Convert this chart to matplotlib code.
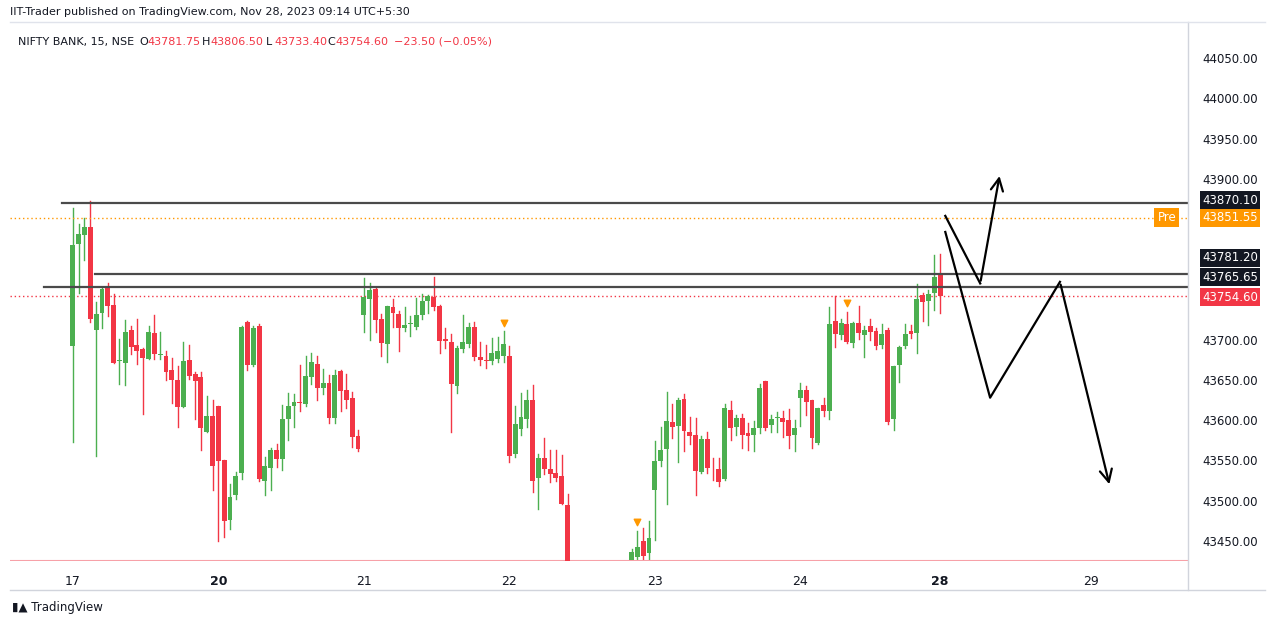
import numpy as np
import matplotlib.pyplot as plt
from matplotlib.patches import Rectangle

nan = np.nan
# 15-min candles, NIFTY BANK, 17 Nov .. 28 Nov 2023 (10 candles on 22 Nov are below the visible range)
opens = [43692,43819,43830,43840,43712,43733,43764,43743,43673,43671,43712,43694,43689,43676,43708,43681,43680,43662,43650,43617,43675,43657,43654,43585,43605,
         43618,43551,43476,43507,43534,43722,43669,43717,43524,43541,43563,43552,43601,43618,43623,43620,43654,43670,43640,43646,43603,43661,43637,43628,43580,
         43731,43751,43763,43726,43695,43741,43732,43715,43719,43716,43731,43748,43753,43742,43701,43697,43643,43689,43695,43716,43679,43675,43674,43676,43680,
         43680,43558,43589,43602,43625,43528,43553,43539,43534,43531,43495,nan,nan,nan,nan,nan,nan,nan,nan,nan,nan,43426,43430,43450,43435,
         43513,43549,43564,43598,43593,43626,43585,43582,43536,43577,43541,43539,43527,43613,43592,43603,43584,43582,43590,43649,43594,43603,43603,43600,43582,
         43628,43638,43625,43572,43619,43611,43723,43706,43720,43696,43721,43706,43717,43711,43693,43712,43601,43669,43692,43711,43708,43756,43748,43758,43781.75]
highs = [43864,43844,43851,43872,43747,43766,43770,43757,43701,43725,43717,43726,43690,43717,43731,43710,43686,43677,43668,43697,43694,43660,43660,43630,43625,
         43618,43551,43521,43536,43717,43723,43717,43719,43554,43565,43571,43619,43634,43632,43669,43680,43683,43680,43664,43656,43662,43662,43657,43635,43588,
         43777,43770,43765,43732,43742,43751,43736,43741,43729,43752,43757,43756,43778,43743,43715,43707,43692,43731,43721,43722,43697,43694,43702,43704,43711,
         43692,43618,43634,43638,43644,43558,43578,43563,43563,43557,43508,nan,nan,nan,nan,nan,nan,nan,nan,nan,nan,43440,43462,43466,43475,
         43574,43592,43635,43620,43628,43632,43604,43603,43581,43585,43553,43553,43620,43624,43607,43608,43596,43599,43645,43649,43607,43610,43611,43614,43600,
         43646,43643,43625,43615,43627,43741,43754,43726,43735,43722,43742,43717,43726,43715,43720,43715,43667,43692,43720,43718,43769,43758,43762,43805,43806.5]
lows = [43573,43758,43799,43722,43556,43715,43730,43671,43645,43644,43682,43670,43608,43676,43676,43676,43650,43621,43592,43617,43651,43602,43563,43585,43513,
        43450,43455,43465,43502,43527,43663,43668,43525,43507,43513,43542,43538,43576,43592,43611,43618,43645,43625,43632,43597,43597,43612,43615,43567,43562,
        43710,43700,43710,43680,43672,43716,43686,43711,43705,43714,43726,43733,43737,43684,43690,43585,43634,43685,43691,43675,43669,43665,43670,43672,43672,
        43548,43554,43582,43592,43511,43490,43533,43523,43525,43496,43380,nan,nan,nan,nan,nan,nan,nan,nan,nan,nan,43420,43420,43420,43420,
        43451,43543,43496,43578,43548,43562,43570,43507,43535,43535,43526,43518,43526,43576,43582,43565,43563,43562,43584,43588,43585,43585,43579,43565,43562,
        43593,43607,43566,43570,43605,43601,43691,43701,43696,43691,43701,43679,43700,43688,43690,43595,43588,43647,43690,43702,43684,43723,43718,43737,43733.4]
closes = [43818,43831,43840,43726,43732,43763,43742,43671,43675,43710,43691,43686,43677,43710,43682,43681,43660,43650,43617,43674,43655,43649,43590,43605,43543,
          43549,43475,43505,43531,43716,43669,43715,43527,43543,43563,43552,43602,43618,43623,43621,43655,43672,43640,43646,43603,43656,43636,43625,43579,43564,
          43753,43762,43725,43696,43742,43733,43715,43718,43721,43731,43748,43754,43741,43698,43699,43645,43690,43697,43716,43679,43675,43674,43684,43686,43695,
          43556,43595,43604,43625,43525,43553,43539,43533,43528,43496,43410,nan,nan,nan,nan,nan,nan,nan,nan,nan,nan,43436,43443,43431,43454,
          43549,43563,43599,43592,43625,43587,43580,43537,43577,43540,43540,43523,43615,43590,43603,43582,43580,43590,43640,43590,43602,43604,43598,43581,43590,
          43638,43623,43578,43615,43611,43720,43707,43721,43697,43721,43708,43712,43710,43692,43707,43598,43667,43691,43707,43707,43751,43747,43757,43778,43754.6]

day_labels = ["17", "20", "21", "22", "23", "24", "28", "29"]
day_index = [0, 25, 50, 75, 100, 125, 149, 175]
bold_days = ["20", "28"]

marker_idx = [74, 97, 133]
marker_price = [43721, 43474, 43746]

level_lines = [(43870.10, -1.9), (43781.20, 3.8), (43765.65, -5.0)]
pre_price = 43851.55
last_price = 43754.60
ytick_values = [43450, 43500, 43550, 43600, 43650, 43700, 43900, 43950, 44000, 44050]

# hand drawn scenario paths (candle index, price)
path_up = [(149.9, 43854), (155.9, 43770), (159.3, 43907)]
path_down = [(149.9, 43834), (157.6, 43628), (169.6, 43772), (178.2, 43517)]

GREEN = "#4caf50"
RED = "#f23645"
TXT = "#131722"

fig = plt.figure(figsize=(12.75, 6.27), dpi=100)
W, H = 1275, 627
ax = fig.add_axes([10 / W, (H - 561) / H, (1188 - 10) / W, (561 - 22) / H])

for i in range(len(opens)):
    o, h, l, c = opens[i], highs[i], lows[i], closes[i]
    if np.isnan(o):
        continue
    col = GREEN if c >= o else RED
    ax.plot([i, i], [l, h], color=col, lw=1, zorder=2)
    bh = max(abs(c - o), 0.9)
    ax.add_patch(Rectangle((i - 0.42, min(o, c)), 0.84, bh, color=col, lw=0, zorder=3))

ax.scatter(marker_idx, marker_price, marker="v", s=22, color="#ff9800", zorder=4)

for p, x0 in level_lines:
    ax.plot([x0, 200], [p, p], color="#4a4a4a", lw=1.6, zorder=5)
ax.axhline(pre_price, color="#ff9800", lw=1, ls=(0, (1, 2)))
ax.axhline(last_price, color=RED, lw=1, ls=(0, (1, 2)))

for path in (path_up, path_down):
    xs, ys = zip(*path)
    ax.plot(xs[:-1], ys[:-1], color="black", lw=1.6, zorder=6)
    ax.annotate("", xy=path[-1], xytext=path[-2],
                arrowprops=dict(arrowstyle="->", lw=1.6, color="black", mutation_scale=22), zorder=6)

ax.set_xlim(-10.8, 191.6)
ax.set_ylim(43425, 44095)
ax.axhline(43425, color="#f7a1a8", lw=1.5)

ax.yaxis.tick_right()
ax.set_yticks(ytick_values)
ax.set_yticklabels([f"{v:.2f}" for v in ytick_values], fontsize=8.5, color=TXT)
ax.tick_params(axis="y", length=0, pad=10)
ax.set_xticks(day_index)
ax.set_xticklabels(day_labels, fontsize=9, color=TXT)
for t in ax.get_xticklabels():
    if t.get_text() in bold_days:
        t.set_fontweight("bold")
ax.tick_params(axis="x", length=0, pad=10)
for s in ax.spines.values():
    s.set_visible(False)

# price labels on the scale (dy shifts labels apart like the platform does)
def price_tag(p, bg, dy=0):
    ax.annotate(f"{p:.2f}", xy=(1, p), xycoords=("axes fraction", "data"), xytext=(10, dy),
                textcoords="offset points", va="center", ha="left", fontsize=8.5, color="white",
                bbox=dict(boxstyle="square,pad=0.2", fc=bg, ec="none"), zorder=10, annotation_clip=False)

price_tag(43870.10, "#131722", 2)
price_tag(pre_price, "#ff9800")
price_tag(43781.20, "#131722", 12)
price_tag(43765.65, "#131722", 7)
price_tag(last_price, RED, -1)
ax.annotate("Pre", xy=(1, pre_price), xycoords=("axes fraction", "data"), xytext=(-22, 0),
            textcoords="offset points", va="center", ha="left", fontsize=8.5, color="white",
            bbox=dict(boxstyle="square,pad=0.25", fc="#ff9800", ec="none"), annotation_clip=False)

# frame lines
fig.add_artist(plt.Line2D([1188 / W, 1188 / W], [(H - 590) / H, (H - 22) / H], color="#d1d4dc", lw=1))
fig.add_artist(plt.Line2D([10 / W, 1265 / W], [(H - 590) / H, (H - 590) / H], color="#d1d4dc", lw=1))
fig.add_artist(plt.Line2D([10 / W, 1265 / W], [(H - 22) / H, (H - 22) / H], color="#e0e3eb", lw=1))

fig.text(10 / W, 1 - 12 / H, "IIT-Trader published on TradingView.com, Nov 28, 2023 09:14 UTC+5:30",
         fontsize=8, color=TXT, va="center")
fig.text(18 / W, 1 - 42 / H, "NIFTY BANK, 15, NSE", fontsize=8, color=TXT, va="center")
hdr = [("O", 139, "43781.75"), ("H", 202, "43806.50"), ("L", 266, "43733.40"), ("C", 327, "43754.60")]
for k, x, v in hdr:
    fig.text(x / W, 1 - 42 / H, k, fontsize=8, color=TXT, va="center")
    fig.text((x + 8) / W, 1 - 42 / H, v, fontsize=8, color=RED, va="center")
fig.text(394 / W, 1 - 42 / H, "\u221223.50 (\u22120.05%)", fontsize=8, color=RED, va="center")
fig.text(12 / W, 1 - 608 / H, "\u25ae\u25b2 TradingView", fontsize=8.5, color=TXT, va="center")

fig.savefig("out.png", dpi=100)
